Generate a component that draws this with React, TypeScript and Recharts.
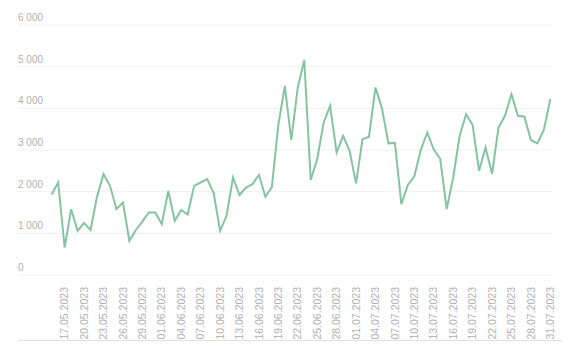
import { LineChart, Line, XAxis, YAxis, CartesianGrid } from "recharts";

const dates = [
  "15.05.2023", "16.05.2023", "17.05.2023", "18.05.2023", "19.05.2023", "20.05.2023",
  "21.05.2023", "22.05.2023", "23.05.2023", "24.05.2023", "25.05.2023", "26.05.2023",
  "27.05.2023", "28.05.2023", "29.05.2023", "30.05.2023", "31.05.2023", "01.06.2023",
  "02.06.2023", "03.06.2023", "04.06.2023", "05.06.2023", "06.06.2023", "07.06.2023",
  "08.06.2023", "09.06.2023", "10.06.2023", "11.06.2023", "12.06.2023", "13.06.2023",
  "14.06.2023", "15.06.2023", "16.06.2023", "17.06.2023", "18.06.2023", "19.06.2023",
  "20.06.2023", "21.06.2023", "22.06.2023", "23.06.2023", "24.06.2023", "25.06.2023",
  "26.06.2023", "27.06.2023", "28.06.2023", "29.06.2023", "30.06.2023", "01.07.2023",
  "02.07.2023", "03.07.2023", "04.07.2023", "05.07.2023", "06.07.2023", "07.07.2023",
  "08.07.2023", "09.07.2023", "10.07.2023", "11.07.2023", "12.07.2023", "13.07.2023",
  "14.07.2023", "15.07.2023", "16.07.2023", "17.07.2023", "18.07.2023", "19.07.2023",
  "20.07.2023", "21.07.2023", "22.07.2023", "23.07.2023", "24.07.2023", "25.07.2023",
  "26.07.2023", "27.07.2023", "28.07.2023", "29.07.2023", "30.07.2023", "31.07.2023",
];

const values = [
  1930, 2220, 660, 1580, 1060, 1250, 1080, 1880, 2420, 2140, 1580, 1740,
  820, 1080, 1280, 1500, 1500, 1220, 2020, 1300, 1560, 1450, 2140, 2220,
  2300, 1980, 1060, 1420, 2340, 1920, 2100, 2180, 2400, 1880, 2110, 3600,
  4540, 3240, 4500, 5160, 2280, 2780, 3660, 4060, 2940, 3340, 2980, 2200,
  3260, 3320, 4500, 4000, 3160, 3170, 1700, 2160, 2370, 3000, 3420, 3010,
  2790, 1580, 2340, 3340, 3860, 3600, 2500, 3060, 2430, 3540, 3820, 4340,
  3820, 3800, 3240, 3160, 3480, 4220,
];

const tickLabels = [
  "17.05.2023", "20.05.2023", "23.05.2023", "26.05.2023", "29.05.2023", "01.06.2023",
  "04.06.2023", "07.06.2023", "10.06.2023", "13.06.2023", "16.06.2023", "19.06.2023",
  "22.06.2023", "25.06.2023", "28.06.2023", "01.07.2023", "04.07.2023", "07.07.2023",
  "10.07.2023", "13.07.2023", "16.07.2023", "19.07.2023", "22.07.2023", "25.07.2023",
  "28.07.2023", "31.07.2023",
];

const yTicks = [0, 500, 1000, 1500, 2000, 2500, 3000, 3500, 4000, 4500, 5000, 5500, 6000];

const data = dates.map((date, i) => ({ date, value: values[i] }));

const fmt = (v: number) => String(v).replace(/\B(?=(\d{3})+(?!\d))/g, " ");

const YTick = (props: any) => {
  const { y, payload } = props;
  return (
    <text x={18} y={y - 4} textAnchor="start" fontSize={10} fill="#b0b0b0">
      {fmt(payload.value)}
    </text>
  );
};

const XTick = (props: any) => {
  const { x, y, payload } = props;
  if (!tickLabels.includes(payload.value)) return <g />;
  return (
    <text
      x={x}
      y={y + 4}
      dy="0.35em"
      textAnchor="end"
      fontSize={10.5}
      fill="#b0b0b0"
      transform={`rotate(-90 ${x} ${y + 4})`}
    >
      {payload.value}
    </text>
  );
};

export default function App() {
  return (
    <div style={{ position: "relative", width: 581, height: 356, fontFamily: "'Liberation Sans', Arial, sans-serif" }}>
      <style>{`body { margin: 0; }`}</style>
      <LineChart
        width={581}
        height={356}
        data={data}
        margin={{ top: 25, right: 28, left: 17, bottom: 16 }}
      >
        <CartesianGrid vertical={false} stroke="#f0f0f0" />
        <XAxis
          dataKey="date"
          interval={0}
          height={65}
          padding={{ left: 33.7, right: 2.7 }}
          axisLine={false}
          tickLine={false}
          tick={<XTick />}
        />
        <YAxis
          width={1}
          domain={[0, 6000]}
          ticks={yTicks}
          axisLine={false}
          tickLine={false}
          tick={<YTick />}
        />
        <Line
          type="linear"
          dataKey="value"
          stroke="#84c4a1"
          strokeWidth={2}
          dot={false}
          isAnimationActive={false}
        />
      </LineChart>
      <div
        style={{ position: "absolute", left: 18, top: 340, width: 544, height: 1, background: "#e0e0e0" }}
      />
    </div>
  );
}
